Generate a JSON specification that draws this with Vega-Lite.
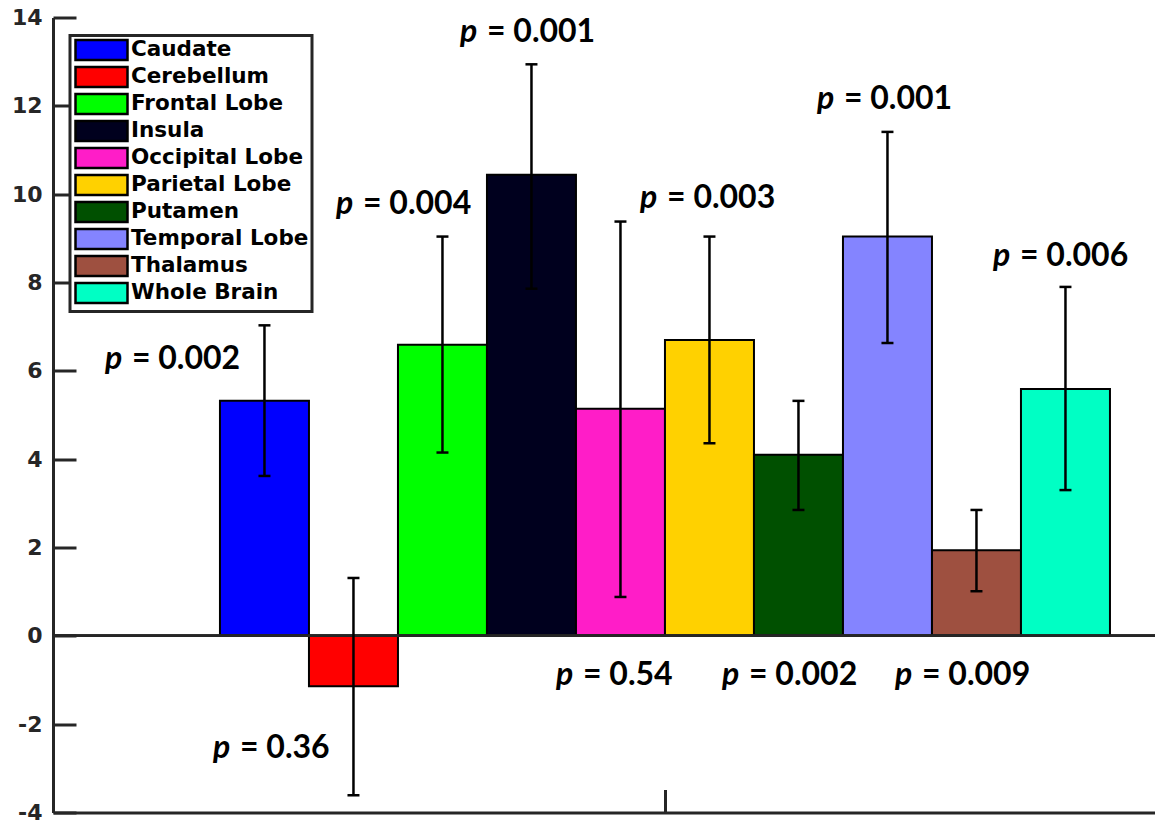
{
  "$schema": "https://vega.github.io/schema/vega-lite/v6.json",
  "width": 1102,
  "height": 795,
  "autosize": {"type": "none"},
  "padding": {"left": 53, "top": 17.5, "right": 0, "bottom": 14.5},
  "background": "white",
  "config": {"view": {"stroke": null}, "legend": {"strokeWidth": 3}},
  "data": {"values": [
    {"region": "Caudate", "pos": 0, "mean": 5.32, "lo": 3.62, "hi": 7.03, "p": "= 0.002", "labelX": -1.792, "labelY": 6.04},
    {"region": "Cerebellum", "pos": 1, "mean": -1.14, "lo": -3.61, "hi": 1.31, "p": "= 0.36", "labelX": -0.578, "labelY": -2.77},
    {"region": "Frontal Lobe", "pos": 2, "mean": 6.59, "lo": 4.15, "hi": 9.04, "p": "= 0.004", "labelX": 0.804, "labelY": 9.55},
    {"region": "Insula", "pos": 3, "mean": 10.44, "lo": 7.86, "hi": 12.94, "p": "= 0.001", "labelX": 2.197, "labelY": 13.45},
    {"region": "Occipital Lobe", "pos": 4, "mean": 5.14, "lo": 0.88, "hi": 9.38, "p": "= 0.54", "labelX": 3.276, "labelY": -1.11},
    {"region": "Parietal Lobe", "pos": 5, "mean": 6.70, "lo": 4.36, "hi": 9.04, "p": "= 0.003", "labelX": 4.22, "labelY": 9.68},
    {"region": "Putamen", "pos": 6, "mean": 4.10, "lo": 2.85, "hi": 5.32, "p": "= 0.002", "labelX": 5.141, "labelY": -1.11},
    {"region": "Temporal Lobe", "pos": 7, "mean": 9.04, "lo": 6.63, "hi": 11.41, "p": "= 0.001", "labelX": 6.208, "labelY": 11.92},
    {"region": "Thalamus", "pos": 8, "mean": 1.94, "lo": 1.01, "hi": 2.85, "p": "= 0.009", "labelX": 7.085, "labelY": -1.11},
    {"region": "Whole Brain", "pos": 9, "mean": 5.59, "lo": 3.30, "hi": 7.90, "p": "= 0.006", "labelX": 8.186, "labelY": 8.37}
  ]},
  "layer": [
    {
      "mark": {"type": "bar", "width": 89, "stroke": "#000000", "strokeWidth": 2, "opacity": 1},
      "encoding": {
        "x": {"field": "pos", "type": "quantitative",
              "scale": {"domain": [-2.376, 10.006], "nice": false, "zero": false, "padding": 0},
              "axis": {"values": [4.5], "labels": false, "title": null, "grid": false,
                       "tickSize": -23, "tickWidth": 3, "tickColor": "#262626",
                       "domainColor": "#262626", "domainWidth": 3}},
        "y": {"field": "mean", "type": "quantitative",
              "scale": {"domain": [-4, 14], "nice": false, "padding": 0},
              "axis": {"values": [-4, -2, 0, 2, 4, 6, 8, 10, 12, 14], "title": null, "grid": false,
                       "tickSize": -23, "tickWidth": 3, "tickColor": "#262626",
                       "domainColor": "#262626", "domainWidth": 3,
                       "labelExpr": "toString(datum.value)",
                       "labelFont": "DejaVu Sans", "labelFontWeight": "bold", "labelFontSize": 22,
                       "labelColor": "#262626", "labelPadding": 34}},
        "color": {"field": "region", "type": "nominal",
                  "scale": {"domain": ["Caudate", "Cerebellum", "Frontal Lobe", "Insula", "Occipital Lobe", "Parietal Lobe", "Putamen", "Temporal Lobe", "Thalamus", "Whole Brain"],
                            "range": ["#0000FF", "#FF0000", "#00FF00", "#00001E", "#FF1DC8", "#FFD100", "#005000", "#8484FF", "#9E5040", "#00FFC4"]},
                  "legend": {"orient": "none", "legendX": 17, "legendY": 18, "title": null,
                             "symbolType": "M-2.6,-1L2.6,-1L2.6,1L-2.6,1Z", "symbolSize": 400,
                             "symbolStrokeColor": "#000000", "symbolStrokeWidth": 2.5, "symbolOpacity": 1,
                             "symbolOffset": 17, "labelOffset": 18, "labelLimit": 400,
                             "labelFont": "DejaVu Sans", "labelFontWeight": "bold", "labelFontSize": 21.5,
                             "labelColor": "#000000", "rowPadding": -4.1, "padding": 3,
                             "fillColor": "white", "strokeColor": "#262626"}}
      }
    },
    {
      "mark": {"type": "rule", "color": "#262626", "strokeWidth": 2},
      "encoding": {"y": {"datum": 0}}
    },
    {
      "mark": {"type": "rule", "color": "#000000", "strokeWidth": 2.5},
      "encoding": {
        "x": {"field": "pos", "type": "quantitative"},
        "y": {"field": "lo", "type": "quantitative"},
        "y2": {"field": "hi"}
      }
    },
    {
      "mark": {"type": "tick", "orient": "horizontal", "size": 12, "thickness": 2.5, "color": "#000000", "opacity": 1},
      "encoding": {
        "x": {"field": "pos", "type": "quantitative"},
        "y": {"field": "lo", "type": "quantitative"}
      }
    },
    {
      "mark": {"type": "tick", "orient": "horizontal", "size": 12, "thickness": 2.5, "color": "#000000", "opacity": 1},
      "encoding": {
        "x": {"field": "pos", "type": "quantitative"},
        "y": {"field": "hi", "type": "quantitative"}
      }
    },
    {
      "mark": {"type": "text", "font": "Lato", "fontWeight": "bold", "fontStyle": "italic", "fontSize": 32, "align": "left", "baseline": "alphabetic", "color": "#000000"},
      "encoding": {
        "x": {"field": "labelX", "type": "quantitative"},
        "y": {"field": "labelY", "type": "quantitative"},
        "text": {"value": "p"}
      }
    },
    {
      "mark": {"type": "text", "font": "Lato", "fontWeight": "bold", "fontSize": 32, "align": "left", "baseline": "alphabetic", "dx": 27, "color": "#000000"},
      "encoding": {
        "x": {"field": "labelX", "type": "quantitative"},
        "y": {"field": "labelY", "type": "quantitative"},
        "text": {"field": "p"}
      }
    }
  ]
}
